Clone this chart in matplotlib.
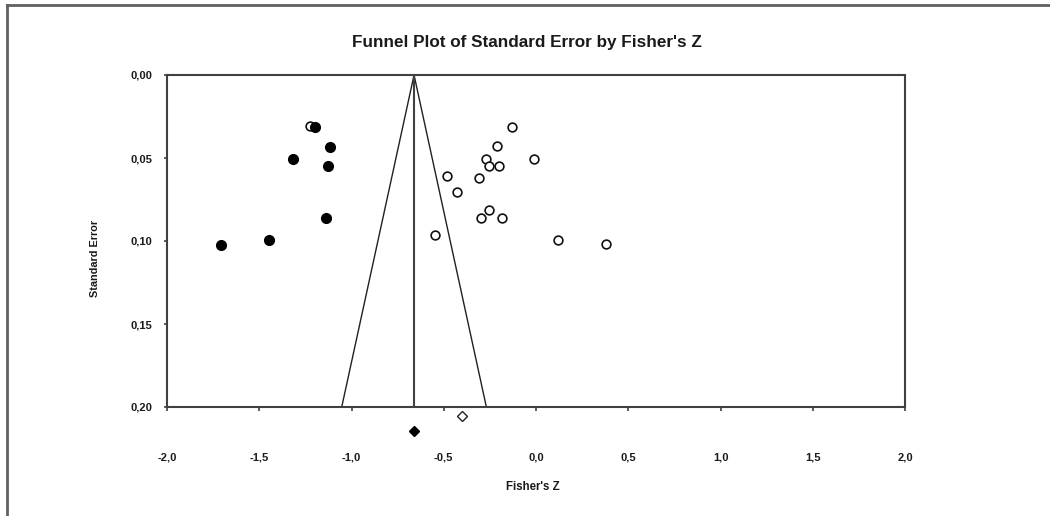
import numpy as np
import matplotlib
matplotlib.use("Agg")
import matplotlib.pyplot as plt
from matplotlib.ticker import FuncFormatter
from matplotlib.lines import Line2D

plt.rcParams['font.family'] = ['Liberation Sans', 'DejaVu Sans']

# estudios observados (circulos abiertos)
obs_z = [-1.225, -0.130, -0.211, -0.273, -0.009, -0.255, -0.199, -0.484,
         -0.307, -0.428, -0.256, -0.298, -0.184, -0.546, 0.121, 0.379]
obs_se = [0.0305, 0.0313, 0.0430, 0.0508, 0.0508, 0.0548, 0.0546, 0.0607,
          0.0620, 0.0705, 0.0815, 0.0863, 0.0860, 0.0964, 0.0992, 0.1020]

# estudios imputados (trim and fill, circulos negros)
imp_z = [-1.198, -1.115, -1.317, -1.126, -1.138, -1.447, -1.706]
imp_se = [0.0311, 0.0432, 0.0508, 0.0548, 0.0860, 0.0994, 0.1024]

# efecto combinado: observado y ajustado
obs_mean, obs_mean_y = -0.401, 0.2052
adj_mean, adj_mean_y = -0.661, 0.2143
se_max = 0.20

xticks = [-2.0, -1.5, -1.0, -0.5, 0.0, 0.5, 1.0, 1.5, 2.0]
yticks = [0.00, 0.05, 0.10, 0.15, 0.20]

W, H = 1050, 516
fig = plt.figure(figsize=(W / 100, H / 100), dpi=100)
ax = fig.add_axes([167 / W, 1 - 407 / H, 738 / W, 332 / H])

txt = '#1a1a1a'
spine_c = '#404040'

# embudo
ax.plot([adj_mean - 1.96 * se_max, adj_mean, adj_mean + 1.96 * se_max],
        [se_max, 0, se_max], color='#202020', lw=1.0, zorder=2)
ax.plot([adj_mean, adj_mean], [0, se_max], color=spine_c, lw=1.5, zorder=2)

ax.plot(obs_z, obs_se, 'o', ms=6.3, mfc='white', mec='#111111', mew=1.2, ls='none', zorder=3)
ax.plot(imp_z, imp_se, 'o', ms=7, mfc='black', mec='black', ls='none', zorder=4)

ax.plot([obs_mean], [obs_mean_y], 'D', ms=5.5, mfc='white', mec='#222222', mew=1.0, clip_on=False)
ax.plot([adj_mean], [adj_mean_y], 'D', ms=5, mfc='black', mec='black', clip_on=False)

ax.set_xlim(-2.0, 2.0)
ax.set_ylim(0.20, 0.00)
ax.set_xticks(xticks)
ax.set_yticks(yticks)
ax.xaxis.set_major_formatter(FuncFormatter(lambda v, p: f"{v:.1f}".replace('.', ',')))
ax.yaxis.set_major_formatter(FuncFormatter(lambda v, p: f"{v:.2f}".replace('.', ',')))
ax.tick_params(axis='x', direction='out', length=3, width=1.2, color=spine_c,
               pad=30, labelsize=8, labelcolor=txt)
ax.tick_params(axis='y', direction='out', length=2.5, width=1.2, color=spine_c,
               pad=8, labelsize=8, labelcolor=txt)
for lab in ax.get_xticklabels() + ax.get_yticklabels():
    lab.set_fontweight('bold')
for s in ax.spines.values():
    s.set_color(spine_c)
    s.set_linewidth(1.5)

fig.text(95 / W, 1 - 258 / H, 'Standard Error', rotation=90, ha='center', va='center',
         fontsize=7.8, fontweight='bold', color=txt)
fig.text(533 / W, 1 - 487 / H, "Fisher's Z", ha='center', va='center',
         fontsize=8.3, fontweight='bold', color=txt)
fig.text(527 / W, 1 - 43 / H, "Funnel Plot of Standard Error by Fisher's Z", ha='center',
         va='center', fontsize=12.3, fontweight='bold', color=txt)

# marco de la imagen (arriba e izquierda)
fig.add_artist(Line2D([7 / W, 7 / W], [0, 1 - 5 / H], color='#606060', lw=2))
fig.add_artist(Line2D([7 / W, 1], [1 - 5 / H, 1 - 5 / H], color='#606060', lw=2))

fig.savefig('out.png', dpi=100)
